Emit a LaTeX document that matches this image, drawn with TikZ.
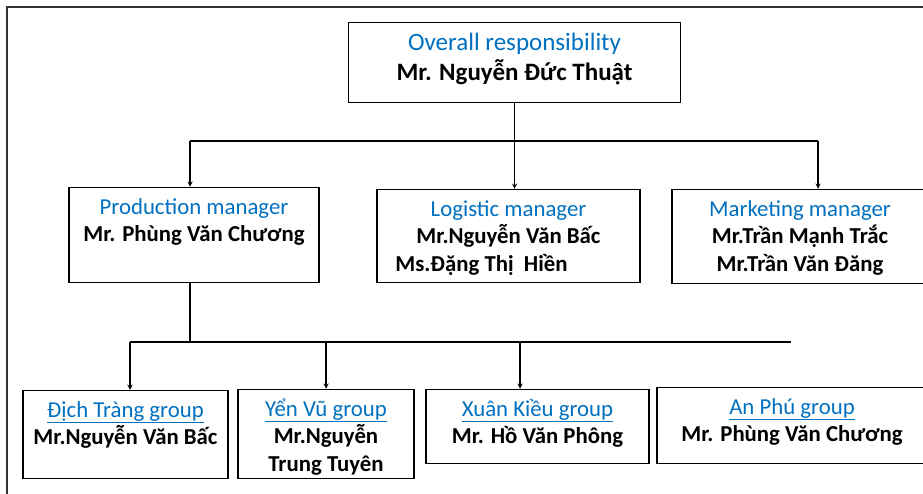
\documentclass[tikz,border=0pt]{standalone}
\usepackage{fontspec}
\setmainfont{Carlito}
\usepackage{tikz}
\usetikzlibrary{positioning}

\definecolor{headblue}{RGB}{0,112,192}

\tikzset{
    unitbox/.style={draw, line width=1.5pt, inner sep=0pt, fill=white},
    link/.style={line width=1.3pt},
    drop/.style={link, ->, >=stealth}
}

% box text: width, height, blue heading, bold names
\newcommand{\unittext}[4]{%
    \parbox[c][#2][t]{#1}{\fontsize{22.8}{27.5}\selectfont\centering
        {\color{headblue}\rule{0pt}{26.5pt}#3}\\
        \textbf{#4}}}

\begin{document}
\begin{tikzpicture}[x=1pt, y=-1pt]
        \useasboundingbox (0,0) rectangle (923,493);

        % Cornice esterna
        \draw[line width=2pt, draw=black!80] (7,7) rectangle (960,530);

        % Box in alto (Direzione)
        \node[unitbox] (top) at (514.5,62.5) {
            \parbox[c][80pt][t]{332pt}{\fontsize{25}{30}\selectfont\centering
                {\color{headblue}\rule{0pt}{28pt}Overall responsibility}\\
                \textbf{Mr. Nguyễn Đức Thuật}}
        };

        % Box dei responsabili
        \node[unitbox] (prod) at (194,235) {
            \unittext{250pt}{95pt}{Production manager}{Mr. Phùng Văn Chương}
        };
        \node[unitbox] (logi) at (508.5,236) {
            \unittext{263pt}{93pt}{Logistic manager}{Mr.Nguyễn Văn Bấc\\
                Ms.Đặng Thị\ \ Hiền\hspace*{54pt}}
        };
        \node[unitbox] (mark) at (800,236.5) {
            \unittext{256pt}{94pt}{Marketing manager}{Mr.Trần Mạnh Trắc\\
                Mr.Trần Văn Đăng}
        };

        % Box dei gruppi
        \node[unitbox] (dich) at (125.5,434.5) {
            \unittext{205pt}{88pt}{\underline{Địch Tràng group}}{Mr.Nguyễn Văn Bấc}
        };
        \node[unitbox] (yen) at (326,434) {
            \unittext{176pt}{89pt}{\underline{Yển Vũ group}}{Mr.Nguyễn\\ Trung Tuyên}
        };
        \node[unitbox] (xuan) at (537.5,426.5) {
            \unittext{223pt}{74pt}{\underline{Xuân Kiều group}}{Mr. Hồ Văn Phông}
        };
        \node[unitbox] (anphu) at (792,425.5) {
            \unittext{270pt}{76pt}{\underline{An Phú group}}{Mr. Phùng Văn Chương}
        };

        % Linee di collegamento
        \coordinate (bus1w) at (190,141);
        \coordinate (bus1e) at (818,141);
        \coordinate (bus2w) at (130,342);
        \coordinate (bus2e) at (791,342);
        \coordinate (bus2x) at (520,342);

        \draw[link] (top.south) -- (top.south |- bus1w);
        \draw[link] (bus1w) -- (bus1e);
        \draw[drop] (bus1w) -- (bus1w |- prod.north);
        \draw[drop] (top.south |- bus1w) -- (top.south |- logi.north);
        \draw[drop] (bus1e) -- (bus1e |- mark.north);

        \draw[link] (bus1w |- prod.south) -- (bus1w |- bus2w);
        \draw[link] (bus2w) -- (bus2e);
        \draw[drop] (bus2w) -- (bus2w |- dich.north);
        \draw[drop] (yen.north |- bus2w) -- (yen.north);
        \draw[drop] (bus2x) -- (bus2x |- xuan.north);
\end{tikzpicture}
\end{document}
